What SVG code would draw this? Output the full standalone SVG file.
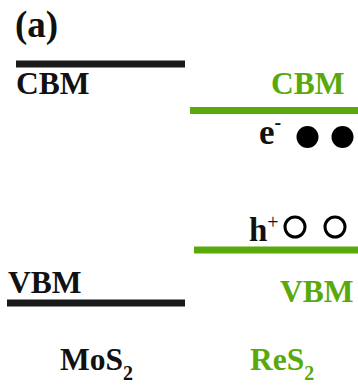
<svg xmlns="http://www.w3.org/2000/svg" width="358" height="385" viewBox="0 0 358 385">
  <style>
    text { font-family: "Liberation Serif", "Times New Roman", serif; font-weight: bold; }
    .lbl { font-size: 31.5px; }
    .k { fill: #111; }
    .g { fill: #5aa90c; }
    .sub { font-size: 20px; }
    .band-k { stroke: #1a1a1a; stroke-width: 7; }
    .band-g { stroke: #5aa90c; stroke-width: 7; }
    .hole { fill: none; stroke: #000; stroke-width: 3; }
  </style>
  <rect width="358" height="385" fill="#fff"/>
  <text x="15" y="37" class="k" font-size="37">(a)</text>

  <g id="mos2">
    <line class="band-k" x1="16" y1="64" x2="185" y2="64"/>
    <text x="16" y="94" class="lbl k">CBM</text>
    <text x="8" y="293" class="lbl k">VBM</text>
    <line class="band-k" x1="7" y1="303" x2="185" y2="303"/>
    <text x="60" y="370" class="lbl k">MoS<tspan class="sub" dy="10">2</tspan></text>
  </g>

  <g id="res2">
    <text x="271" y="94" class="lbl g">CBM</text>
    <line class="band-g" x1="190" y1="110.5" x2="358" y2="110.5"/>
    <line class="band-g" x1="194" y1="250" x2="358" y2="250"/>
    <text x="280" y="302" class="lbl g">VBM</text>
    <text x="250" y="370" class="lbl g">ReS<tspan class="sub" dy="10">2</tspan></text>
  </g>

  <g id="electrons">
    <text x="259" y="144" class="k" font-size="35">e<tspan font-size="20" dy="-15">-</tspan></text>
    <circle cx="307.5" cy="137" r="11"/>
    <circle cx="342.5" cy="137" r="11"/>
  </g>

  <g id="holes">
    <text x="249" y="241" class="k" font-size="33">h<tspan font-size="20" dy="-12" font-weight="normal">+</tspan></text>
    <circle class="hole" cx="295" cy="227" r="10"/>
    <circle class="hole" cx="335" cy="227" r="10"/>
  </g>
</svg>
